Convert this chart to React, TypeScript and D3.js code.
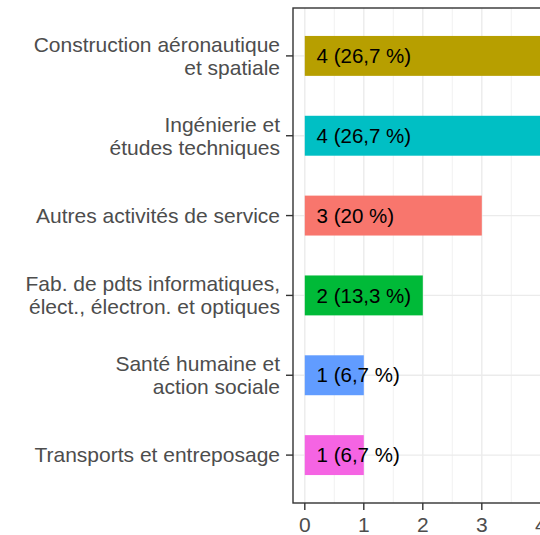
import React, { useEffect, useRef } from 'react';
import * as d3 from 'd3';

const categories = [
  ['Construction aéronautique', 'et spatiale'],
  ['Ingénierie et', 'études techniques'],
  ['Autres activités de service'],
  ['Fab. de pdts informatiques,', 'élect., électron. et optiques'],
  ['Santé humaine et', 'action sociale'],
  ['Transports et entreposage'],
];
const counts = [4, 4, 3, 2, 1, 1];
const labels = ['4 (26,7 %)', '4 (26,7 %)', '3 (20 %)', '2 (13,3 %)', '1 (6,7 %)', '1 (6,7 %)'];
const colors = ['#B79F00', '#00BFC4', '#F8766D', '#00BA38', '#619CFF', '#F564E3'];
const xTicks = [0, 1, 2, 3, 4];
const xMinor = [0.5, 1.5, 2.5, 3.5];

const W = 540;
const H = 535;

const App: React.FC = () => {
  const svgRef = useRef<SVGSVGElement>(null);

  useEffect(() => {
    if (!svgRef.current) return;
    const svg = d3.select(svgRef.current);
    svg.selectAll('*').remove();

    const left = 293;
    const top = 8;
    const bottom = 503;
    const font = '"Liberation Sans", Arial, sans-serif';

    // x: 0..4 with 5% expansion each side
    const x = d3.scaleLinear().domain([-0.2, 4.2]).range([left, left + 4.4 * 59]);
    const idx = categories.map((_, i) => String(i));
    const y = d3.scalePoint<string>().domain(idx).range([top, bottom]).padding(0.6);
    const step = y.step();
    const barH = step * 0.5;

    const right = x(4.2);

    svg.append('rect')
      .attr('x', left).attr('y', top)
      .attr('width', right - left).attr('height', bottom - top)
      .attr('fill', '#fff');

    // minor grid
    svg.append('g').selectAll('line').data(xMinor).join('line')
      .attr('x1', d => x(d)).attr('x2', d => x(d))
      .attr('y1', top).attr('y2', bottom)
      .attr('stroke', '#ebebeb').attr('stroke-width', 0.7);

    // major grid
    svg.append('g').selectAll('line').data(xTicks).join('line')
      .attr('x1', d => x(d)).attr('x2', d => x(d))
      .attr('y1', top).attr('y2', bottom)
      .attr('stroke', '#ebebeb').attr('stroke-width', 1.4);

    svg.append('g').selectAll('line').data(idx).join('line')
      .attr('x1', left).attr('x2', right)
      .attr('y1', d => y(d)!).attr('y2', d => y(d)!)
      .attr('stroke', '#ebebeb').attr('stroke-width', 1.4);

    // bars
    svg.append('g').selectAll('rect').data(counts).join('rect')
      .attr('x', x(0))
      .attr('y', (_, i) => y(String(i))! - barH / 2)
      .attr('width', d => x(d) - x(0))
      .attr('height', barH)
      .attr('fill', (_, i) => colors[i]);

    // bar labels
    svg.append('g').selectAll('text').data(labels).join('text')
      .attr('x', x(0.2))
      .attr('y', (_, i) => y(String(i))!)
      .attr('dy', '0.35em')
      .attr('font-family', font)
      .attr('font-size', 20.5)
      .attr('fill', '#000')
      .text(d => d);

    // panel border
    svg.append('rect')
      .attr('x', left).attr('y', top)
      .attr('width', right - left).attr('height', bottom - top)
      .attr('fill', 'none')
      .attr('stroke', '#333').attr('stroke-width', 1.4);

    // y ticks
    svg.append('g').selectAll('line').data(idx).join('line')
      .attr('x1', left - 7).attr('x2', left)
      .attr('y1', d => y(d)!).attr('y2', d => y(d)!)
      .attr('stroke', '#333').attr('stroke-width', 1.4);

    // y labels
    const lineH = 23;
    const yl = svg.append('g').selectAll('text').data(categories).join('text')
      .attr('text-anchor', 'end')
      .attr('font-family', font)
      .attr('font-size', 21)
      .attr('fill', '#4d4d4d')
      .attr('transform', (_, i) => `translate(${left - 13},${y(String(i))!})`);
    yl.each(function (lines) {
      const t = d3.select(this);
      const n = lines.length;
      lines.forEach((ln, j) => {
        t.append('tspan')
          .attr('x', 0)
          .attr('y', (j - (n - 1) / 2) * lineH)
          .attr('dy', '0.35em')
          .text(ln);
      });
    });

    // x ticks
    svg.append('g').selectAll('line').data(xTicks).join('line')
      .attr('x1', d => x(d)).attr('x2', d => x(d))
      .attr('y1', bottom).attr('y2', bottom + 7)
      .attr('stroke', '#333').attr('stroke-width', 1.4);

    svg.append('g').selectAll('text').data(xTicks).join('text')
      .attr('x', d => x(d))
      .attr('y', bottom + 29)
      .attr('text-anchor', 'middle')
      .attr('font-family', font)
      .attr('font-size', 21)
      .attr('fill', '#4d4d4d')
      .text(d => String(d));
  }, []);

  return (
    <svg
      ref={svgRef}
      width={W}
      height={H}
      style={{ position: 'absolute', left: 0, top: 0, background: '#fff' }}
    />
  );
};

export default App;
